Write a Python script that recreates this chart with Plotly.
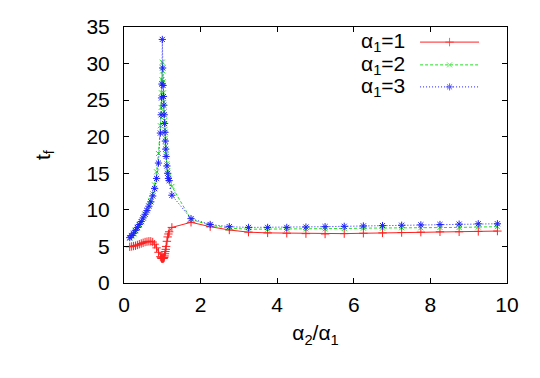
import plotly.graph_objects as go

# alpha2/alpha1 values (dense near the resonance at 1, coarse tail)
ratio = [0.15, 0.2, 0.25, 0.3, 0.35, 0.4, 0.45, 0.5, 0.55, 0.6, 0.65, 0.7, 0.75, 0.8, 0.85,
         0.9, 0.95, 0.97, 0.98, 0.99, 1.0, 1.01, 1.02, 1.03, 1.04, 1.05, 1.06, 1.07, 1.08,
         1.09, 1.1, 1.12, 1.14, 1.16, 1.18, 1.25,
         1.75, 2.25, 2.75, 3.25, 3.75, 4.25, 4.75, 5.25, 5.75, 6.25, 6.75, 7.25, 7.75,
         8.25, 8.75, 9.25, 9.75]

tf_a1 = [4.95, 5.0, 5.05, 5.1, 5.2, 5.3, 5.4, 5.5, 5.6, 5.65, 5.7, 5.7, 5.6, 5.3, 4.8,
         4.2, 3.6, 3.45, 3.38, 3.35, 3.35, 3.35, 3.36, 3.38, 3.42, 3.5, 3.7, 4.0, 4.3,
         4.6, 5.0, 5.7, 6.3, 6.7, 7.0, 7.6,
         8.3, 7.7, 7.25, 6.95, 6.85, 6.8, 6.75, 6.7, 6.75, 6.8, 6.85, 6.9, 6.95,
         7.0, 7.0, 7.05, 7.1]

tf_a2 = [6.1, 6.4, 6.7, 7.1, 7.5, 7.9, 8.4, 8.9, 9.4, 10.0, 10.6, 11.3, 12.2, 13.4, 15.2,
         17.7, 21.5, 24.0, 26.0, 27.8, 30.2, 29.0, 27.5, 26.0, 24.7, 23.4, 22.2, 21.0, 19.8,
         18.7, 17.6, 16.3, 15.3, 14.6, 14.2, 13.2,
         8.7, 7.9, 7.5, 7.35, 7.35, 7.35, 7.4, 7.4, 7.45, 7.5, 7.5, 7.55, 7.55,
         7.6, 7.6, 7.65, 7.7]

tf_a3 = [6.2, 6.5, 6.8, 7.2, 7.6, 8.0, 8.4, 8.9, 9.4, 9.9, 10.5, 11.1, 11.9, 12.9, 14.3,
         16.4, 20.5, 23.0, 25.3, 27.2, 33.3, 29.4, 27.0, 25.5, 24.3, 23.0, 21.8, 20.6, 19.4,
         18.3, 17.3, 16.0, 15.0, 14.3, 14.0, 12.0,
         8.8, 8.0, 7.7, 7.6, 7.6, 7.6, 7.65, 7.7, 7.75, 7.8, 7.85, 7.9, 7.95,
         8.0, 8.05, 8.1, 8.1]

labels = ["α<sub>1</sub>=1", "α<sub>1</sub>=2", "α<sub>1</sub>=3"]
x_ticks = [0, 2, 4, 6, 8, 10]
y_ticks = [0, 5, 10, 15, 20, 25, 30, 35]

font = dict(family="Liberation Sans, Arial, sans-serif", size=21, color="black")

styles = [
    dict(color="#ff2020", dash="solid", symbol="cross-thin", size=6),
    dict(color="#20e020", dash="3px,2px", symbol="x-thin", size=5),
    dict(color="#2020ff", dash="1px,2px", symbol="asterisk", size=6),
]

fig = go.Figure()
for ys, name, st in zip([tf_a1, tf_a2, tf_a3], labels, styles):
    fig.add_trace(go.Scatter(x=ratio, y=ys, mode="lines+markers", name=name, showlegend=False,
                             line=dict(color=st["color"], width=1, dash=st["dash"]),
                             marker=dict(symbol=st["symbol"], size=st["size"],
                                         line=dict(color=st["color"], width=1))))

# gnuplot-style key: label on the left, line sample on the right
key_rows = [0.941, 0.852, 0.766]
for name, st, ky in zip(labels, styles, key_rows):
    fig.add_annotation(text=name, xref="paper", yref="paper", x=0.738, y=ky,
                       xanchor="right", yanchor="middle", showarrow=False, font=font)
    fig.add_trace(go.Scatter(x=[0, 0.5, 1], y=[ky] * 3, xaxis="x2", yaxis="y2",
                             mode="lines+markers", showlegend=False, hoverinfo="skip",
                             line=dict(color=st["color"], width=1, dash=st["dash"]),
                             marker=dict(symbol=st["symbol"], size=[0, st["size"], 0],
                                         line=dict(color=st["color"], width=1))))

axis_style = dict(showline=True, linecolor="black", linewidth=1, mirror="ticks",
                  ticks="inside", ticklen=5, tickcolor="black", showgrid=False,
                  zeroline=False, tickfont=font, automargin=False)

fig.update_xaxes(range=[0, 10], tickvals=x_ticks, ticklabelstandoff=3,
                 title=dict(text="α<sub>2</sub>/α<sub>1</sub>", font=font, standoff=10),
                 **axis_style)
fig.update_yaxes(range=[0, 35], tickvals=y_ticks, ticklabelstandoff=9,
                 title=dict(text="t<sub>f</sub>", font=font, standoff=30),
                 **axis_style)

fig.update_layout(
    width=540, height=378,
    margin=dict(l=116, r=41, t=19, b=103),
    plot_bgcolor="rgba(0,0,0,0)", paper_bgcolor="white",
    font=font,
    showlegend=False,
    xaxis2=dict(domain=[0.773, 0.927], range=[0, 1], visible=False, anchor="y2"),
    yaxis2=dict(domain=[0, 1], range=[0, 1], visible=False, anchor="x2", overlaying="y"),
)

fig.write_html("out.html")
